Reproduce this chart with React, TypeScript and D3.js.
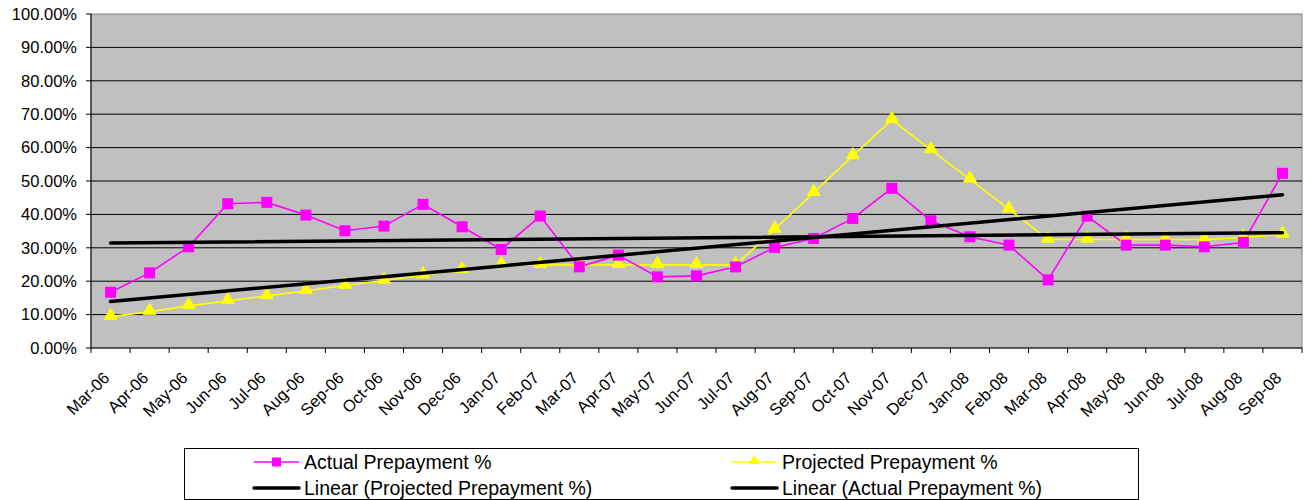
import React from "react";
import * as d3 from "d3";

const categories = [
  "Mar-06", "Apr-06", "May-06", "Jun-06", "Jul-06", "Aug-06", "Sep-06", "Oct-06", "Nov-06", "Dec-06",
  "Jan-07", "Feb-07", "Mar-07", "Apr-07", "May-07", "Jun-07", "Jul-07", "Aug-07", "Sep-07", "Oct-07",
  "Nov-07", "Dec-07", "Jan-08", "Feb-08", "Mar-08", "Apr-08", "May-08", "Jun-08", "Jul-08", "Aug-08", "Sep-08",
];

const actual = [
  16.7, 22.5, 30.3, 43.2, 43.6, 39.8, 35.1, 36.5, 43.0, 36.3,
  29.5, 39.5, 24.3, 27.8, 21.3, 21.6, 24.3, 30.1, 32.8, 38.8,
  47.8, 38.1, 33.3, 30.8, 20.4, 39.5, 30.8, 30.8, 30.3, 31.6, 52.3,
];

const projected = [
  9.4, 10.9, 12.6, 14.1, 15.6, 17.1, 18.7, 20.2, 21.8, 23.4,
  24.9, 24.9, 24.9, 24.9, 24.9, 24.9, 24.9, 35.5, 46.5, 57.5,
  68.3, 59.3, 50.5, 41.5, 32.5, 32.5, 32.5, 32.5, 32.5, 33.1, 34.0,
];

const yTicks = [0, 10, 20, 30, 40, 50, 60, 70, 80, 90, 100];

const legendItems = [
  { label: "Actual Prepayment %", kind: "square" },
  { label: "Projected Prepayment %", kind: "triangle" },
  { label: "Linear (Projected Prepayment %)", kind: "trend" },
  { label: "Linear (Actual Prepayment %)", kind: "trend" },
];

const FONT = "'Liberation Sans', Arial, sans-serif";
const MAGENTA = "#FF00FF";
const YELLOW = "#FFFF00";

function linReg(vals: number[]) {
  const n = vals.length;
  const xs = vals.map((_, i) => i);
  const mx = d3.mean(xs)!;
  const my = d3.mean(vals)!;
  let num = 0, den = 0;
  for (let i = 0; i < n; i++) {
    num += (xs[i] - mx) * (vals[i] - my);
    den += (xs[i] - mx) ** 2;
  }
  const b = num / den;
  const a = my - b * mx;
  return (i: number) => a + b * i;
}

export default function App() {
  const W = 1307, H = 500;
  const left = 91, right = 1302, top = 14, bottom = 348;
  const x = d3.scaleBand<string>().domain(categories).range([left, right]).padding(0);
  const bw = x.bandwidth();
  const cx = (i: number) => x(categories[i])! + bw / 2;
  const y = d3.scaleLinear().domain([0, 100]).range([bottom, top]);

  const line = d3.line<number>().x((_, i) => cx(i)).y((d) => y(d));

  const trendA = linReg(actual);
  const trendP = linReg(projected);
  const last = categories.length - 1;

  const tri = d3.symbol().type(d3.symbolTriangle).size(72)();
  const triSmall = d3.symbol().type(d3.symbolTriangle).size(50)();

  const boundaries = d3.range(categories.length + 1).map((i) => left + i * bw);

  const legendCols = [254, 732];
  const legendRows = [462, 488];

  return (
    <svg width={W} height={H} style={{ position: "absolute", left: 0, top: 0, display: "block" }} fontFamily={FONT}>
      <rect x={0} y={0} width={W} height={H} fill="#fff" />
      <rect x={left} y={top} width={right - left} height={bottom - top} fill="#C0C0C0" stroke="#808080" strokeWidth={1} />
      {yTicks.filter((t) => t > 0 && t < 100).map((t) => (
        <line key={t} x1={left} x2={right} y1={y(t)} y2={y(t)} stroke="#000" strokeWidth={1} />
      ))}
      <line x1={left} x2={left} y1={top} y2={bottom} stroke="#000" strokeWidth={1} />
      <line x1={left} x2={right} y1={bottom} y2={bottom} stroke="#000" strokeWidth={1} />
      {yTicks.map((t) => (
        <g key={t}>
          <line x1={left - 5} x2={left} y1={y(t)} y2={y(t)} stroke="#000" />
          <text x={77} y={y(t)} dy="0.35em" textAnchor="end" fontSize={16.5} fill="#000">
            {t.toFixed(2)}%
          </text>
        </g>
      ))}
      {boundaries.map((bx, i) => (
        <line key={i} x1={bx} x2={bx} y1={bottom} y2={bottom + 5} stroke="#000" />
      ))}
      {categories.map((c, i) => (
        <text key={c} transform={`translate(${cx(i)},${379}) rotate(-45)`} textAnchor="end" fontSize={16.5} fill="#000">
          {c}
        </text>
      ))}

      <path d={line(projected)!} fill="none" stroke={YELLOW} strokeWidth={1.6} />
      <path d={line(actual)!} fill="none" stroke={MAGENTA} strokeWidth={1.6} />

      {projected.map((v, i) => (
        <path key={"p" + i} d={tri!} transform={`translate(${cx(i)},${y(v) - 1})`} fill={YELLOW} stroke={YELLOW} strokeWidth={1} />
      ))}
      {actual.map((v, i) => (
        <rect key={"a" + i} x={cx(i) - 5.5} y={y(v) - 5.5} width={11} height={11} fill={MAGENTA} />
      ))}

      <line x1={cx(0)} x2={cx(last)} y1={y(trendP(0))} y2={y(trendP(last))} stroke="#000" strokeWidth={3.5} strokeLinecap="round" />
      <line x1={cx(0)} x2={cx(last)} y1={y(trendA(0))} y2={y(trendA(last))} stroke="#000" strokeWidth={3.5} strokeLinecap="round" />

      <rect x={184.5} y={448.5} width={954} height={51} fill="#fff" stroke="#000" strokeWidth={1} />
      {legendItems.map((it, k) => {
        const lx = legendCols[k % 2];
        const ly = legendRows[Math.floor(k / 2)];
        const mid = lx + 22.5;
        return (
          <g key={it.label}>
            {it.kind === "square" && (
              <>
                <line x1={lx} x2={lx + 45} y1={ly} y2={ly} stroke={MAGENTA} strokeWidth={1.6} />
                <rect x={mid - 4.5} y={ly - 4.5} width={9} height={9} fill={MAGENTA} />
              </>
            )}
            {it.kind === "triangle" && (
              <>
                <line x1={lx} x2={lx + 45} y1={ly} y2={ly} stroke={YELLOW} strokeWidth={1.6} />
                <path d={triSmall!} transform={`translate(${mid},${ly - 1})`} fill={YELLOW} />
              </>
            )}
            {it.kind === "trend" && (
              <line x1={lx} x2={lx + 45} y1={ly} y2={ly} stroke="#000" strokeWidth={3.5} strokeLinecap="round" />
            )}
            <text x={lx + 50} y={ly} dy="0.35em" fontSize={19.5} fill="#000">
              {it.label}
            </text>
          </g>
        );
      })}
    </svg>
  );
}
